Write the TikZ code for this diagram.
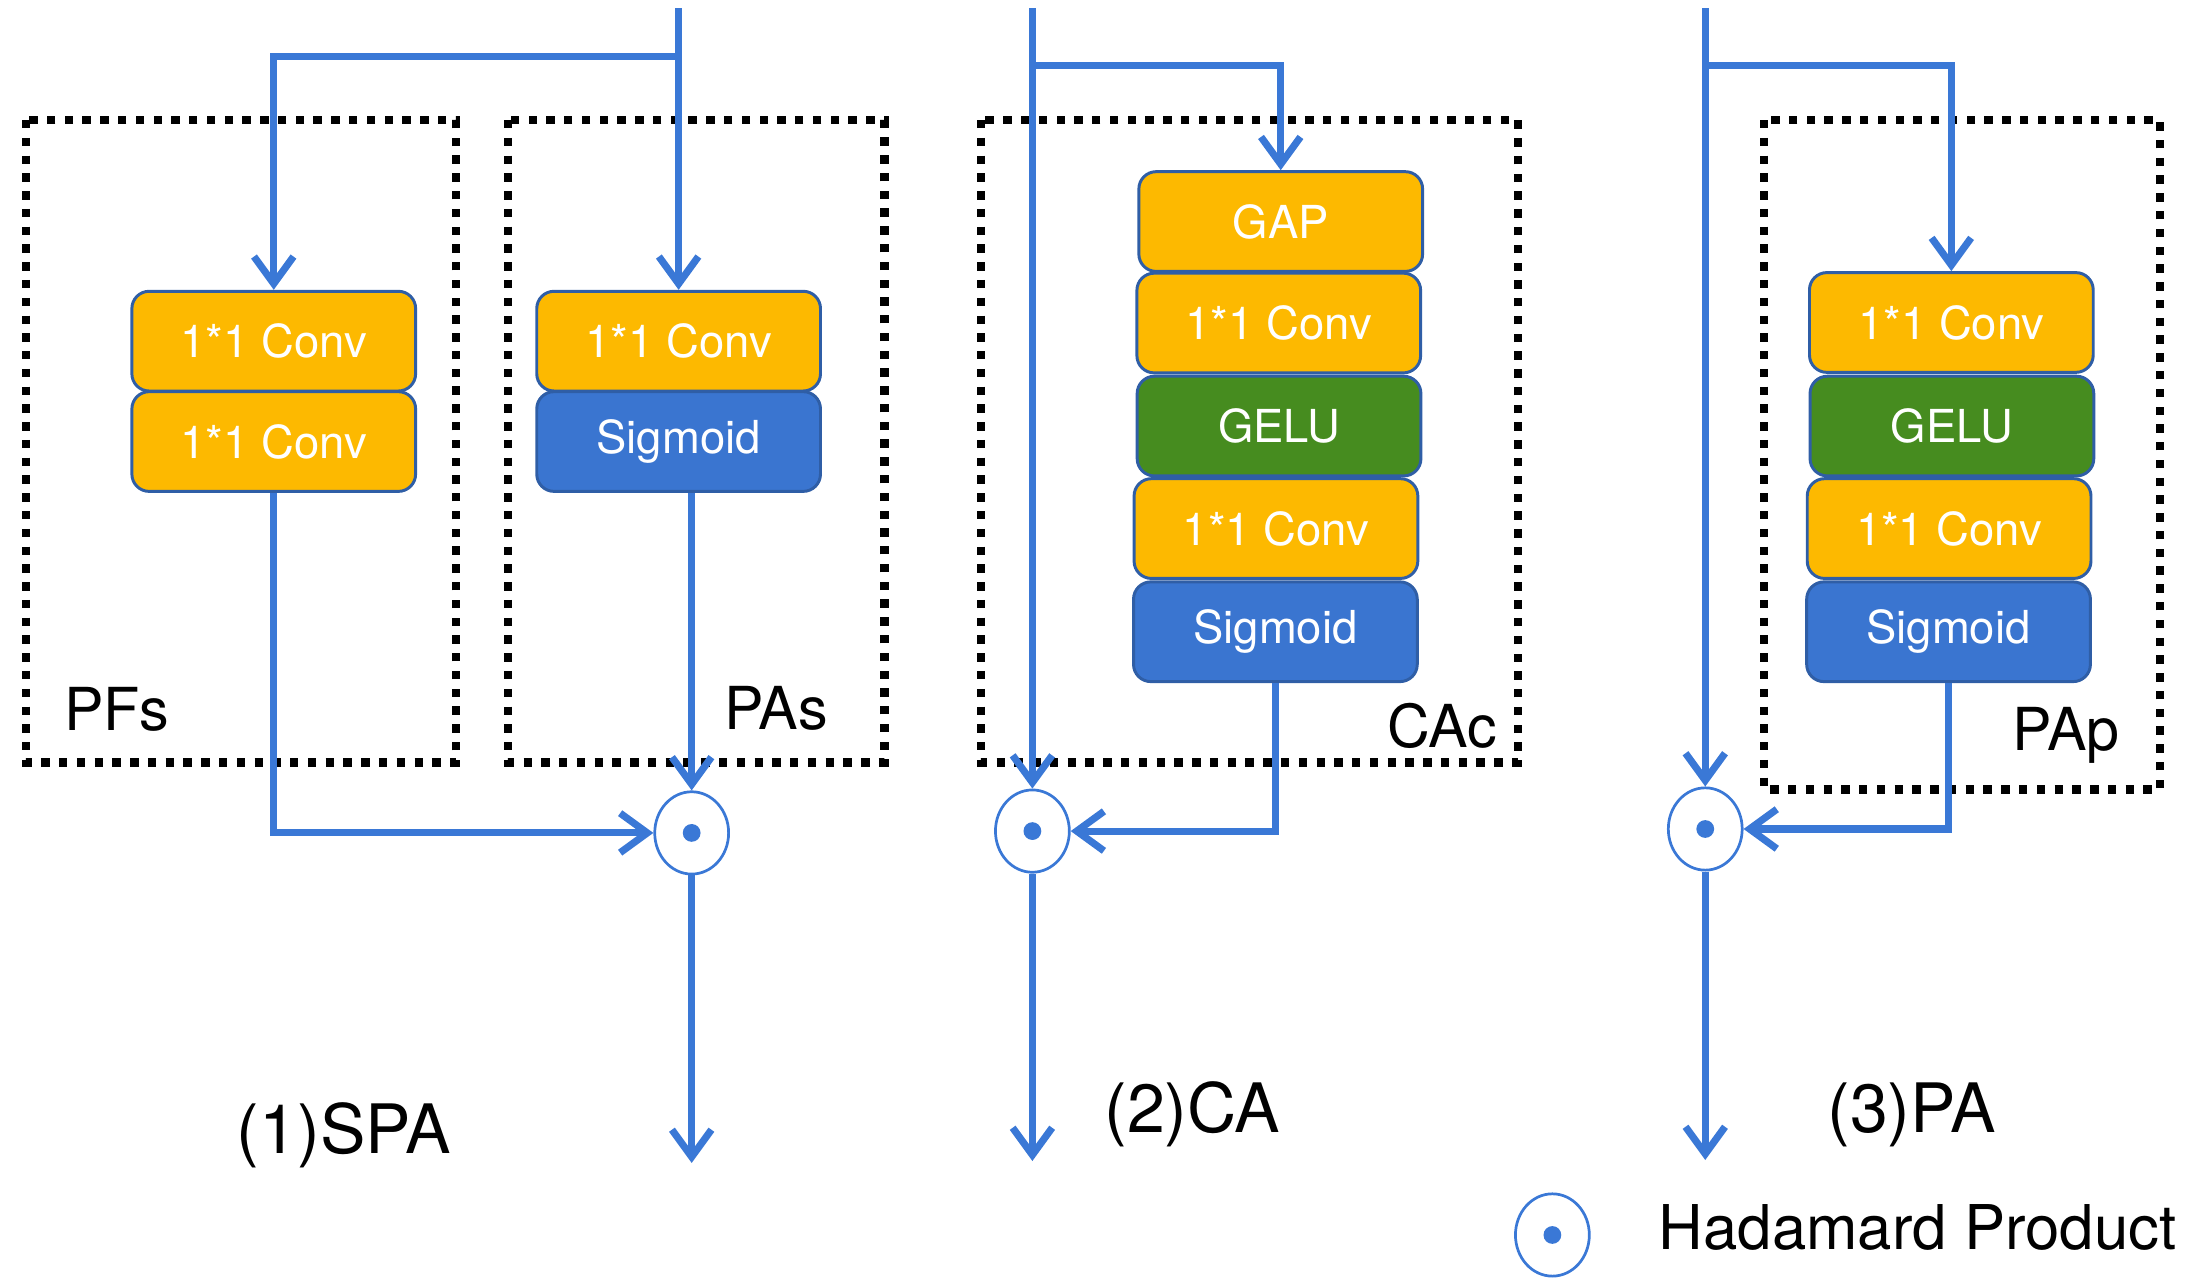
\documentclass[tikz,border=0pt]{standalone}
\usepackage{fontspec}
\setmainfont{TeX Gyre Heros}
\usepackage{xcolor}
\usetikzlibrary{arrows.meta, shapes.geometric, positioning}
\definecolor{flowblue}{HTML}{3A78D6}
\definecolor{convorange}{HTML}{FDB900}
\definecolor{gelugreen}{HTML}{468C1F}
\definecolor{sigblue}{HTML}{3A75D0}
\definecolor{edgeblue}{HTML}{2F5EA6}
\tikzset{
    block/.style={draw=edgeblue, line width=0.6pt, rounded corners=3.5pt, minimum width=2.02cm, minimum height=0.71cm, inner sep=0pt, text=white, font=\fontsize{9.2}{9.2}\selectfont},
    conv/.style={block, fill=convorange},
    gelu/.style={block, fill=gelugreen},
    sigm/.style={block, fill=sigblue},
    frame/.style={draw=black, line width=1.7pt, dash pattern=on 1.7pt off 1.9pt},
    flow/.style={draw=flowblue, line width=1.45pt, -{Straight Barb[length=5.5pt, width=8pt]}},
    hprod/.style={ellipse, draw=flowblue, line width=0.55pt, fill=white, minimum width=0.526cm, minimum height=0.586cm, inner sep=0pt},
    tag/.style={inner sep=0pt, font=\fontsize{12}{12}\selectfont},
    title/.style={inner sep=0pt, font=\fontsize{13.8}{14}\selectfont}
}
\newcommand{\hadamard}[2]{
    \node[hprod] (#1) at (#2) {};
    \fill[flowblue] (#1.center) circle (1.8pt);
}
\begin{document}
\begin{tikzpicture}[x=0.01cm, y=-0.01cm]
    \useasboundingbox (0,0) rectangle (1560,914.5);
    % (1) SPA
    \draw[frame] (18.5,85.5) rectangle (324.7,543);
    \draw[frame] (362,85.5) rectangle (630,543);
    \node[conv] (s-pf1) at (195,243) {1*1 Conv};
    \node[conv] (s-pf2) at (195,314.5) {1*1 Conv};
    \node[conv] (s-pa1) at (483.4,243) {1*1 Conv};
    \node[sigm] (s-pa2) at (483.4,314.5) {Sigmoid};
    \hadamard{s-h}{492.7,593.3}
    \coordinate (s-in) at (483.4,6);
    \coordinate (s-br) at (483.4,40);
    \coordinate (s-out) at (492.7,828.4);
    \draw[flow] (s-in) -- (s-pa1.north);
    \draw[flow] (s-br) -| (s-pf1.north);
    \draw[flow] (s-pf2.south) |- (s-h.west);
    \draw[flow] (s-pa2.south -| s-h) -- (s-h.north);
    \draw[flow] (s-h.south) -- (s-out);
    \node[tag, anchor=base west] (s-pfs) at (45,520) {PFs};
    \node[tag, anchor=base east] (s-pas) at (590.5,519.3) {PAs};
    \node[title, anchor=base west] (s-t) at (168,822) {(1)SPA};
    % (2) CA
    \draw[frame] (699,85.5) rectangle (1081.5,543);
    \node[conv] (c-gap) at (912.3,157.8) {GAP};
    \node[conv] (c-c1) at (910.9,230.1) {1*1 Conv};
    \node[gelu] (c-g) at (911.1,303.5) {GELU};
    \node[conv] (c-c2) at (908.9,376.5) {1*1 Conv};
    \node[sigm] (c-s) at (908.5,450) {Sigmoid};
    \hadamard{c-h}{735.4,592}
    \coordinate (c-in) at (735.4,6);
    \coordinate (c-br) at (735.4,46.4);
    \coordinate (c-out) at (735.4,827);
    \draw[flow] (c-in) -- (c-h.north);
    \draw[flow] (c-br) -| (c-gap.north);
    \draw[flow] (c-s.south) |- (c-h.east);
    \draw[flow] (c-h.south) -- (c-out);
    \node[tag, anchor=base east] (c-cac) at (1067,532.5) {CAc};
    \node[title, anchor=base west] (c-t) at (786,807) {(2)CA};
    % (3) PA
    \draw[frame] (1256.7,85.5) rectangle (1538.6,562.3);
    \node[conv] (p-c1) at (1390,229.7) {1*1 Conv};
    \node[gelu] (p-g) at (1390.4,303.5) {GELU};
    \node[conv] (p-c2) at (1388.4,376.5) {1*1 Conv};
    \node[sigm] (p-s) at (1388,450) {Sigmoid};
    \hadamard{p-h}{1214.7,590.5}
    \coordinate (p-in) at (1214.7,6);
    \coordinate (p-br) at (1214.7,46.4);
    \coordinate (p-out) at (1214.7,826.3);
    \draw[flow] (p-in) -- (p-h.north);
    \draw[flow] (p-br) -| (p-c1.north);
    \draw[flow] (p-s.south) |- (p-h.east);
    \draw[flow] (p-h.south) -- (p-out);
    \node[tag, anchor=base east] (p-pap) at (1510.7,534.5) {PAp};
    \node[title, anchor=base west] (p-t) at (1301,806.6) {(3)PA};
    % legend
    \hadamard{l-h}{1105.8,879.7}
    \node[inner sep=0pt, anchor=base west, font=\fontsize{12.5}{13}\selectfont] (l-t) at (1181,890) {Hadamard Product};
\end{tikzpicture}
\end{document}
